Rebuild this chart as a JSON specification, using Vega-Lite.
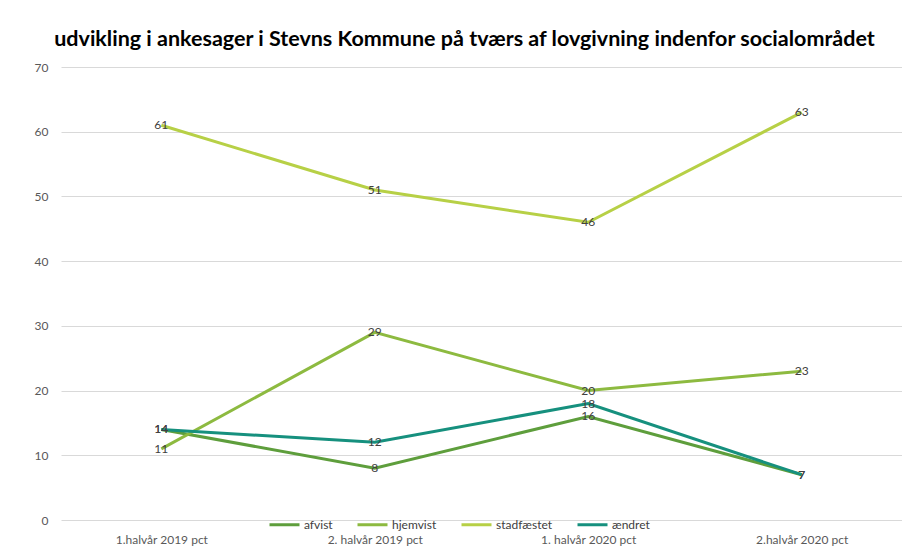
{
  "$schema": "https://vega.github.io/schema/vega-lite/v6.json",
  "autosize": {"type": "none"},
  "padding": {"left": 61, "top": 67, "right": 0, "bottom": 28},
  "width": 841,
  "height": 453,
  "background": "white",
  "title": {
    "text": "udvikling i ankesager i Stevns Kommune på tværs af lovgivning indenfor socialområdet",
    "font": "Lato",
    "fontSize": 21.5,
    "fontWeight": "bold",
    "color": "#000000",
    "anchor": "middle",
    "dx": -17,
    "offset": 11
  },
  "data": {
    "values": [
      {"periode": "1.halvår 2019 pct", "serie": "afvist", "værdi": 14},
      {"periode": "2. halvår 2019 pct", "serie": "afvist", "værdi": 8},
      {"periode": "1. halvår 2020 pct", "serie": "afvist", "værdi": 16},
      {"periode": "2.halvår 2020 pct", "serie": "afvist", "værdi": 7},
      {"periode": "1.halvår 2019 pct", "serie": "hjemvist", "værdi": 11},
      {"periode": "2. halvår 2019 pct", "serie": "hjemvist", "værdi": 29},
      {"periode": "1. halvår 2020 pct", "serie": "hjemvist", "værdi": 20},
      {"periode": "2.halvår 2020 pct", "serie": "hjemvist", "værdi": 23},
      {"periode": "1.halvår 2019 pct", "serie": "stadfæstet", "værdi": 61},
      {"periode": "2. halvår 2019 pct", "serie": "stadfæstet", "værdi": 51},
      {"periode": "1. halvår 2020 pct", "serie": "stadfæstet", "værdi": 46},
      {"periode": "2.halvår 2020 pct", "serie": "stadfæstet", "værdi": 63},
      {"periode": "1.halvår 2019 pct", "serie": "ændret", "værdi": 14},
      {"periode": "2. halvår 2019 pct", "serie": "ændret", "værdi": 12},
      {"periode": "1. halvår 2020 pct", "serie": "ændret", "værdi": 18},
      {"periode": "2.halvår 2020 pct", "serie": "ændret", "værdi": 7}
    ]
  },
  "encoding": {
    "x": {
      "field": "periode",
      "type": "ordinal",
      "sort": ["1.halvår 2019 pct", "2. halvår 2019 pct", "1. halvår 2020 pct", "2.halvår 2020 pct"],
      "scale": {"type": "point", "padding": 0.47},
      "axis": {
        "title": null,
        "labelAngle": 0,
        "domain": false,
        "ticks": false,
        "grid": false,
        "labelFont": "Lato",
        "labelFontSize": 12,
        "labelColor": "#595959",
        "labelPadding": 14
      }
    },
    "y": {
      "field": "værdi",
      "type": "quantitative",
      "scale": {"domain": [0, 70], "nice": false},
      "axis": {
        "title": null,
        "values": [0, 10, 20, 30, 40, 50, 60, 70],
        "domain": false,
        "ticks": false,
        "grid": true,
        "gridColor": "#d9d9d9",
        "gridWidth": 1,
        "labelFont": "Lato",
        "labelFontSize": 12,
        "labelColor": "#595959",
        "labelPadding": 13
      }
    }
  },
  "layer": [
    {
      "mark": {"type": "line", "strokeWidth": 3},
      "encoding": {
        "color": {
          "field": "serie",
          "type": "nominal",
          "sort": ["afvist", "hjemvist", "stadfæstet", "ændret"],
          "scale": {
            "domain": ["afvist", "hjemvist", "stadfæstet", "ændret"],
            "range": ["#5e9e3c", "#8dba40", "#b7d046", "#16907e"]
          },
          "legend": {
            "title": null,
            "orient": "none",
            "legendX": 207,
            "legendY": 441,
            "direction": "horizontal",
            "columns": 4,
            "columnPadding": 18,
            "symbolType": "stroke",
            "symbolSize": 900,
            "symbolStrokeWidth": 3,
            "labelFont": "Lato",
            "labelFontSize": 12,
            "labelColor": "#404040",
            "labelOffset": 3
          }
        }
      }
    },
    {
      "mark": {"type": "text", "font": "Lato", "fontSize": 12, "color": "#404040", "align": "center", "baseline": "middle"},
      "encoding": {
        "text": {"field": "værdi", "type": "quantitative"},
        "detail": {"field": "serie"}
      }
    }
  ],
  "config": {
    "view": {"stroke": null}
  }
}
